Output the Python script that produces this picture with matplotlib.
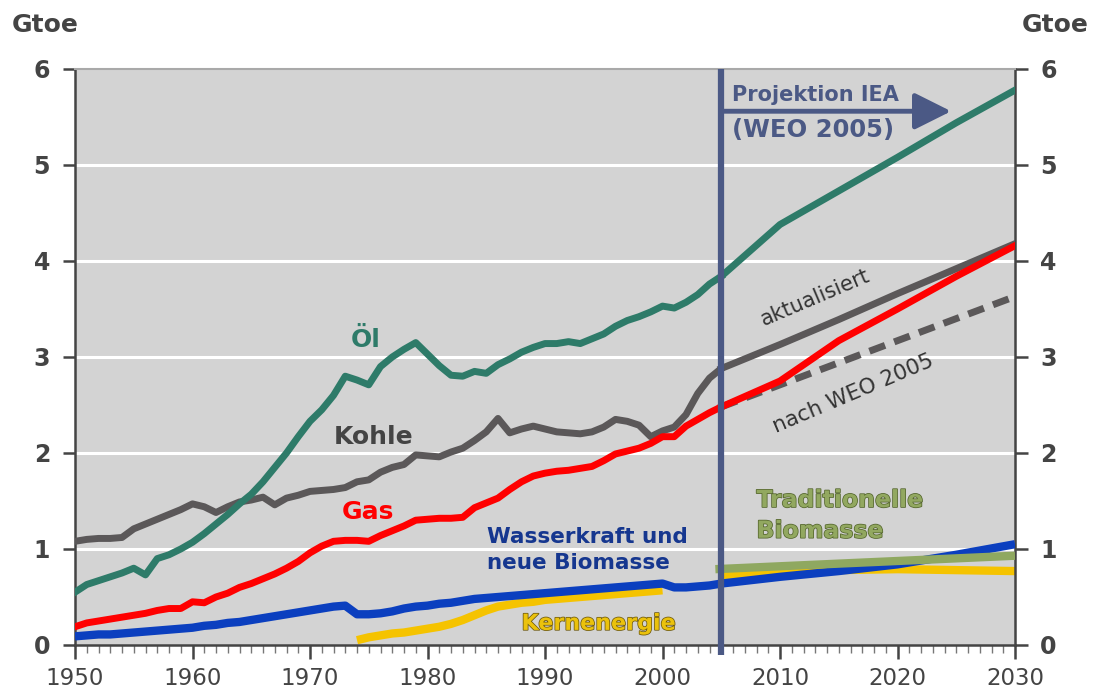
import matplotlib.pyplot as plt
import matplotlib.patheffects as pe
import numpy as np

# --- data (Gtoe) ---
years_hist = list(range(1950, 2006))

oil_hist = [0.55, 0.63, 0.67, 0.71, 0.75, 0.80, 0.73, 0.90, 0.94, 1.00,
            1.07, 1.16, 1.26, 1.36, 1.47, 1.57, 1.70, 1.85, 2.00, 2.17,
            2.33, 2.45, 2.60, 2.80, 2.76, 2.71, 2.90, 3.00, 3.08, 3.15,
            3.03, 2.91, 2.81, 2.80, 2.85, 2.83, 2.92, 2.98, 3.05, 3.10,
            3.14, 3.14, 3.16, 3.14, 3.19, 3.24, 3.32, 3.38, 3.42, 3.47,
            3.53, 3.51, 3.57, 3.65, 3.76, 3.84]
coal_hist = [1.08, 1.10, 1.11, 1.11, 1.12, 1.21, 1.26, 1.31, 1.36, 1.41,
             1.47, 1.44, 1.38, 1.44, 1.49, 1.51, 1.54, 1.46, 1.53, 1.56,
             1.60, 1.61, 1.62, 1.64, 1.70, 1.72, 1.80, 1.85, 1.88, 1.98,
             1.97, 1.96, 2.01, 2.05, 2.13, 2.22, 2.36, 2.21, 2.25, 2.28,
             2.25, 2.22, 2.21, 2.20, 2.22, 2.27, 2.35, 2.33, 2.29, 2.17,
             2.23, 2.27, 2.40, 2.62, 2.78, 2.88]
gas_hist = [0.19, 0.23, 0.25, 0.27, 0.29, 0.31, 0.33, 0.36, 0.38, 0.38,
            0.45, 0.44, 0.50, 0.54, 0.60, 0.64, 0.69, 0.74, 0.80, 0.87,
            0.96, 1.03, 1.08, 1.09, 1.09, 1.08, 1.14, 1.19, 1.24, 1.30,
            1.31, 1.32, 1.32, 1.33, 1.43, 1.48, 1.53, 1.62, 1.70, 1.76,
            1.79, 1.81, 1.82, 1.84, 1.86, 1.92, 1.99, 2.02, 2.05, 2.10,
            2.17, 2.17, 2.28, 2.35, 2.42, 2.48]
hydro_hist = [0.09, 0.10, 0.11, 0.11, 0.12, 0.13, 0.14, 0.15, 0.16, 0.17,
              0.18, 0.20, 0.21, 0.23, 0.24, 0.26, 0.28, 0.30, 0.32, 0.34,
              0.36, 0.38, 0.40, 0.41, 0.32, 0.32, 0.33, 0.35, 0.38, 0.40,
              0.41, 0.43, 0.44, 0.46, 0.48, 0.49, 0.50, 0.51, 0.52, 0.53,
              0.54, 0.55, 0.56, 0.57, 0.58, 0.59, 0.60, 0.61, 0.62, 0.63,
              0.64, 0.60, 0.60, 0.61, 0.62, 0.64]

years_nuc = list(range(1974, 2001))
nuc_hist = [0.05, 0.08, 0.10, 0.12, 0.13, 0.15, 0.17, 0.19, 0.22, 0.26,
            0.31, 0.36, 0.40, 0.42, 0.44, 0.45, 0.47, 0.48, 0.49, 0.50,
            0.51, 0.52, 0.53, 0.54, 0.55, 0.56, 0.57]

years_proj = [2005, 2010, 2015, 2020, 2025, 2030]
oil_proj = [3.84, 4.38, 4.73, 5.08, 5.44, 5.78]
coal_proj = [2.88, 3.13, 3.39, 3.66, 3.92, 4.18]
gas_proj = [2.48, 2.75, 3.17, 3.50, 3.84, 4.16]
hydro_proj = [0.64, 0.71, 0.77, 0.84, 0.94, 1.05]
nuc_proj = [0.72, 0.76, 0.78, 0.79, 0.78, 0.77]
coal_weo2005 = [2.48, 3.63]
years_weo2005 = [2005, 2030]
trad_years = [2004.5, 2030]
trad_bio = [0.79, 0.93]

C_OIL = "#2e7b69"
C_COAL = "#5b5859"
C_GAS = "#ff0000"
C_HYDRO = "#0b3fbf"
C_NUC = "#f5c300"
C_TRAD = "#8fa860"
C_PROJ = "#4b5985"
C_TXT = "#444444"

fig = plt.figure(figsize=(10.94, 6.93), dpi=100)
ax = fig.add_axes([75 / 1094, 1 - 645 / 693, 940 / 1094, 576 / 693])
ax.set_facecolor("#d3d3d3")

ax.set_xlim(1950, 2030)
ax.set_ylim(0, 6)
for g in range(1, 6):
    ax.axhline(g, color="white", lw=2.2, zorder=1)

lw = 5
ax.plot(years_nuc, nuc_hist, color=C_NUC, lw=lw + 1, zorder=2, solid_capstyle="butt")
ax.plot(years_proj, nuc_proj, color=C_NUC, lw=lw + 1, zorder=2, solid_capstyle="butt")
ax.plot(years_hist, hydro_hist, color=C_HYDRO, lw=lw + 1, zorder=3, solid_capstyle="butt")
ax.plot(years_proj, hydro_proj, color=C_HYDRO, lw=lw + 1, zorder=3, solid_capstyle="butt")
ax.plot(trad_years, trad_bio, color=C_TRAD, lw=lw + 1, zorder=4, solid_capstyle="butt")
ax.plot(years_weo2005, coal_weo2005, color=C_COAL, lw=lw, ls=(0, (2.4, 1.4)),
        zorder=4, dash_capstyle="butt")
ax.plot(years_hist, coal_hist, color=C_COAL, lw=lw, zorder=5)
ax.plot(years_proj, coal_proj, color=C_COAL, lw=lw, zorder=5)
ax.plot(years_hist, gas_hist, color=C_GAS, lw=lw, zorder=6)
ax.plot(years_proj, gas_proj, color=C_GAS, lw=lw, zorder=6)
ax.plot(years_hist, oil_hist, color=C_OIL, lw=lw, zorder=7)
ax.plot(years_proj, oil_proj, color=C_OIL, lw=lw, zorder=7)

# projection marker
ax.plot([2005, 2005], [-0.1, 6], color=C_PROJ, lw=4.5, zorder=10, clip_on=False,
        solid_capstyle="butt")
ax.annotate("", xy=(2024.8, 5.56), xytext=(2005, 5.56),
            arrowprops=dict(arrowstyle="-|>,head_length=0.9,head_width=0.45",
                            color=C_PROJ, lw=3.5, mutation_scale=25), zorder=10)
ax.text(2005.9, 5.73, "Projektion IEA", color=C_PROJ, fontsize=15,
        fontweight="bold", va="center", ha="left", zorder=11)
ax.text(2005.9, 5.36, "(WEO 2005)", color=C_PROJ, fontsize=17.5,
        fontweight="bold", va="center", ha="left", zorder=11)

# series labels
ax.text(1974.7, 3.18, "Öl", color=C_OIL, fontsize=18, fontweight="bold",
        ha="center", va="center")
ax.text(1975.4, 2.17, "Kohle", color=C_TXT, fontsize=18, fontweight="bold",
        ha="center", va="center")
ax.text(1974.9, 1.39, "Gas", color=C_GAS, fontsize=18, fontweight="bold",
        ha="center", va="center")
ax.text(1985.1, 1.125, "Wasserkraft und", color="#16378f", fontsize=15.5,
        fontweight="bold", ha="left", va="center")
ax.text(1985.1, 0.855, "neue Biomasse", color="#16378f", fontsize=15.5,
        fontweight="bold", ha="left", va="center")
ax.text(1988.0, 0.22, "Kernenergie", color="#ebc20c", fontsize=16,
        fontweight="bold", ha="left", va="center",
        path_effects=[pe.withStroke(linewidth=1.1, foreground="#6e5a10")])
for yy, s in [(1.51, "Traditionelle"), (1.19, "Biomasse")]:
    ax.text(2008.0, yy, s, color="#92a860", fontsize=17, fontweight="bold",
            ha="left", va="center",
            path_effects=[pe.withStroke(linewidth=1.1, foreground="#55662e")])
ax.text(2013.0, 3.62, "aktualisiert", color="#333333", fontsize=15,
        rotation=23, ha="center", va="center", rotation_mode="anchor")
ax.text(2016.2, 2.62, "nach WEO 2005", color="#333333", fontsize=15.5,
        rotation=23, ha="center", va="center", rotation_mode="anchor")

# axes styling
for side in ["left", "right", "bottom"]:
    ax.spines[side].set_color(C_TXT)
    ax.spines[side].set_linewidth(1.8)
ax.spines["top"].set_color("#a9a9a9")
ax.spines["top"].set_linewidth(1.5)

ax.set_yticks(range(0, 7))
ax.tick_params(axis="y", which="both", direction="out", length=9, width=1.8,
               color=C_TXT, left=True, right=True, labelleft=True,
               labelright=True, labelsize=17, labelcolor=C_TXT, pad=9)
for lab in ax.get_yticklabels():
    lab.set_fontweight("bold")

ax.set_xticks(range(1950, 2031, 10))
ax.set_xticks(range(1950, 2031), minor=True)
ax.tick_params(axis="x", which="major", direction="out", length=10, width=1.8,
               color=C_TXT, labelsize=16.5, labelcolor=C_TXT, pad=6)
ax.tick_params(axis="x", which="minor", direction="out", length=6, width=1,
               color="#777777")

fig.text(45 / 1094, 1 - 25 / 693, "Gtoe", color=C_TXT, fontsize=18,
         fontweight="bold", ha="center", va="center")
fig.text(1055 / 1094, 1 - 25 / 693, "Gtoe", color=C_TXT, fontsize=18,
         fontweight="bold", ha="center", va="center")

fig.savefig("out.png", dpi=100)
